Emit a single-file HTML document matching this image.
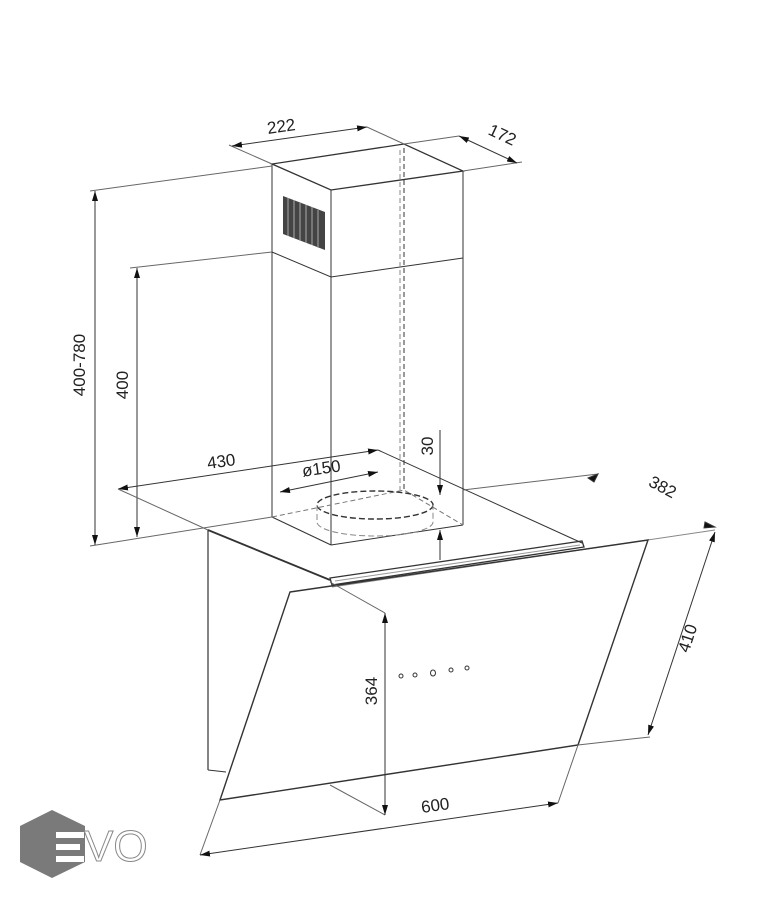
<!DOCTYPE html>
<html><head><meta charset="utf-8"><style>
html,body{margin:0;padding:0;background:#fff;}
svg{display:block;}
text{font-family:"Liberation Sans",sans-serif;fill:#222;}
</style></head><body>
<svg width="768" height="900" viewBox="0 0 768 900" xmlns="http://www.w3.org/2000/svg">
<defs>
<marker id="a" viewBox="0 0 10 6" refX="10" refY="3" markerWidth="10" markerHeight="6" orient="auto-start-reverse" markerUnits="userSpaceOnUse"><path d="M0,0 L10,3 L0,6 z" fill="#111"/></marker>
</defs>
<g stroke="#333" stroke-width="1" fill="none">
<path d="M272,164 L331,190 L463,171 L404,144 Z" stroke-width="1.3"/>
<line x1="272" y1="164" x2="272" y2="517"/>
<line x1="331" y1="190" x2="331" y2="545"/>
<line x1="463" y1="171" x2="463" y2="525"/>
<path d="M272,252 L331,277 L463,258"/>
<line x1="272" y1="517" x2="331" y2="545"/>
<line x1="331" y1="545" x2="463" y2="525"/>
<line x1="404" y1="148" x2="404" y2="490" stroke-dasharray="5,3"/>
<line x1="400" y1="150" x2="400" y2="490" stroke-dasharray="5,3" stroke="#888"/>
<path d="M272,517 L404,490 L463,525" stroke-dasharray="5,3" stroke="#777"/>
<ellipse cx="375" cy="505" rx="58" ry="14" stroke-dasharray="6,3" stroke-width="1.4"/>
<path d="M317,505 L317,522 A58,14 0 0,0 433,522 L433,505" stroke-dasharray="6,3" stroke="#888"/>
<line x1="229" y1="145" x2="272" y2="164" stroke="#666"/>
<line x1="367" y1="127" x2="404" y2="144" stroke="#666"/>
<line x1="232" y1="146" x2="367" y2="127" marker-start="url(#a)" marker-end="url(#a)"/>
<line x1="404" y1="144" x2="459" y2="136" stroke="#666"/>
<line x1="463" y1="171" x2="522" y2="162" stroke="#666"/>
<line x1="459" y1="136" x2="517" y2="163" marker-start="url(#a)" marker-end="url(#a)"/>
<line x1="90" y1="191" x2="272" y2="166" stroke="#666"/>
<line x1="90" y1="546" x2="272" y2="517" stroke="#666"/>
<line x1="95" y1="191" x2="95" y2="545" marker-start="url(#a)" marker-end="url(#a)"/>
<line x1="130" y1="268" x2="272" y2="252" stroke="#666"/>
<line x1="137" y1="268" x2="137" y2="537" marker-start="url(#a)" marker-end="url(#a)"/>
<line x1="118" y1="489" x2="378" y2="450" marker-start="url(#a)" marker-end="url(#a)"/>
<line x1="118" y1="489" x2="208" y2="530" stroke="#666"/>
<line x1="208" y1="530" x2="330" y2="580" stroke-width="1.8"/>
<line x1="378" y1="450" x2="582" y2="543"/>
<line x1="280" y1="492" x2="378" y2="472" marker-start="url(#a)" marker-end="url(#a)"/>
<line x1="463" y1="490" x2="598" y2="474" stroke="#666"/>
<path d="M588,478 L598,474 L594,482 z" fill="#111"/>
<path d="M705,522 L715,527 L704,528 z" fill="#111"/>
<path d="M330,578 L582,541 L584,547 L332,585 Z" stroke-width="1.3"/>
<line x1="335" y1="581" x2="580" y2="545" stroke="#999"/>
<line x1="332" y1="587" x2="715" y2="530" stroke="#888"/>
<line x1="440" y1="430" x2="440" y2="495" marker-end="url(#a)"/>
<line x1="440" y1="560" x2="440" y2="530" marker-end="url(#a)"/>
<line x1="208" y1="530" x2="208" y2="770" stroke-width="1.2"/>
<line x1="208" y1="770" x2="226" y2="772"/>
<path d="M290,592 L648,540 L578,745 L220,800 Z" stroke-width="1.4"/>
<line x1="220" y1="800" x2="200" y2="855" stroke="#666"/>
<line x1="578" y1="745" x2="558" y2="803" stroke="#666"/>
<line x1="200" y1="855" x2="558" y2="803" marker-start="url(#a)" marker-end="url(#a)"/>
<line x1="578" y1="745" x2="650" y2="737" stroke="#666"/>
<line x1="715" y1="532" x2="648" y2="735" marker-start="url(#a)" marker-end="url(#a)"/>
<line x1="330" y1="582" x2="385" y2="613" stroke="#666"/>
<line x1="330" y1="785" x2="385" y2="815" stroke="#666"/>
<line x1="385" y1="613" x2="385" y2="815" marker-start="url(#a)" marker-end="url(#a)"/>
<circle cx="401" cy="676" r="2"/><circle cx="415" cy="675" r="2"/><ellipse cx="433" cy="673" rx="2.5" ry="3"/><circle cx="451" cy="670" r="2"/><circle cx="467" cy="668" r="2"/>
</g>
<path d="M283,196 L325,212 L325,250 L283,234 Z" fill="#444"/>
<g stroke="#aaa" stroke-width="1">
<line x1="288" y1="198" x2="288" y2="236"/><line x1="294" y1="200" x2="294" y2="238"/><line x1="300" y1="203" x2="300" y2="241"/><line x1="306" y1="205" x2="306" y2="243"/><line x1="312" y1="207" x2="312" y2="245"/><line x1="318" y1="210" x2="318" y2="248"/>
</g>
<g font-size="17">
<text x="282" y="132" transform="rotate(-8 282 132)" text-anchor="middle">222</text>
<text x="500" y="140" transform="rotate(25 500 140)" text-anchor="middle">172</text>
<text x="85" y="365" transform="rotate(-90 85 365)" text-anchor="middle">400-780</text>
<text x="128" y="385" transform="rotate(-90 128 385)" text-anchor="middle">400</text>
<text x="222" y="467" transform="rotate(-8 222 467)" text-anchor="middle">430</text>
<text x="322" y="474" transform="rotate(-8 322 474)" text-anchor="middle">ø150</text>
<text x="433" y="446" transform="rotate(-90 433 446)" text-anchor="middle">30</text>
<text x="660" y="492" transform="rotate(28 660 492)" text-anchor="middle">382</text>
<text x="693" y="640" transform="rotate(-72 693 640)" text-anchor="middle">410</text>
<text x="377" y="691" transform="rotate(-90 377 691)" text-anchor="middle">364</text>
<text x="436" y="811" transform="rotate(-8 436 811)" text-anchor="middle">600</text>
</g>
<path d="M52,810 L85,826 L85,862 L52,878 L20,862 L20,826 Z" fill="#7a7a7a"/>
<g fill="#fff"><rect x="56" y="832" width="28" height="6"/><rect x="56" y="844" width="24" height="6"/><rect x="56" y="856" width="28" height="6"/></g>
<text x="84" y="861" font-size="44" stroke="#888" stroke-width="1" style="fill:#fff">VO</text>
</svg>
</body></html>
